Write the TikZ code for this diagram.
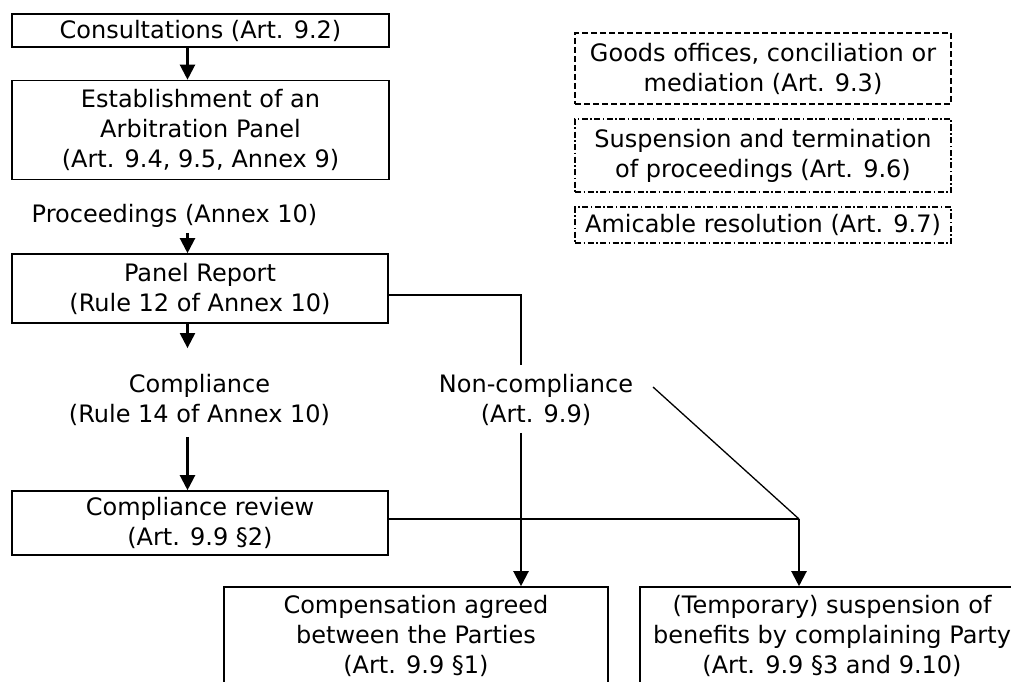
\documentclass[tikz,border=0pt]{standalone}
\usepackage{fontspec}
\setmainfont{DejaVu Sans}
\usetikzlibrary{arrows.meta}
\begin{document}
\begin{tikzpicture}[x=1pt,y=-1pt,
  every node/.style={font=\fontsize{24}{30}\selectfont, align=center, inner sep=0pt},
  solidbox/.style={draw, line width=1.6pt, rectangle},
  dashbox/.style={draw, line width=1.5pt, rectangle, dash pattern=on 6pt off 3pt},
  dotdashbox/.style={draw, line width=1.5pt, rectangle, dash pattern=on 6pt off 2.5pt on 1.5pt off 2.5pt},
  arr/.style={line width=2.2pt, -{Triangle[length=15pt,width=15pt]}},
  conn/.style={line width=1.6pt},
  diag/.style={line width=1.3pt}]
\useasboundingbox (0,0) rectangle (1011,682);
% left column
\node[solidbox, minimum width=377pt, minimum height=33pt] (cons) at (200.5,30.5) {Consultations (Art. 9.2)};
\node[solidbox, minimum width=377pt, minimum height=99pt] (estab) at (200.5,130) {Establishment of an\\Arbitration Panel\\(Art. 9.4, 9.5, Annex 9)};
\node (proc) at (174.5,216) {Proceedings (Annex 10)};
\node[solidbox, minimum width=376pt, minimum height=69pt] (panel) at (200,288.5) {Panel Report\\(Rule 12 of Annex 10)};
\node (compl) at (199.5,400) {Compliance\\(Rule 14 of Annex 10)};
\node[solidbox, minimum width=376pt, minimum height=64pt] (review) at (200,523) {Compliance review\\(Art. 9.9 §2)};
\node (noncomp) at (536,400) {Non-compliance\\(Art. 9.9)};
% bottom boxes (cut off by the page edge)
\node[solidbox, minimum width=384pt, minimum height=98pt] (compens) at (416,636) {Compensation agreed\\between the Parties\\(Art. 9.9 §1)};
\node[solidbox, minimum width=384pt, minimum height=98pt] (susp) at (832,636) {(Temporary) suspension of\\benefits by complaining Party\\(Art. 9.9 §3 and 9.10)};
% right dashed boxes
\node[dashbox, minimum width=376pt, minimum height=71pt] (goods) at (763,68.5) {Goods offices, conciliation or\\mediation (Art. 9.3)};
\node[dotdashbox, minimum width=376pt, minimum height=73pt] (suspterm) at (763,155.5) {Suspension and termination\\of proceedings (Art. 9.6)};
\node[dotdashbox, minimum width=376pt, minimum height=36pt] (amic) at (763,225) {Amicable resolution (Art. 9.7)};
% helper coordinates
\coordinate (colx) at (187.5,0);
\coordinate (p1) at (521,295);
\coordinate (rv) at (0,519);
\coordinate (j) at (799,519);
\coordinate (dstart) at (653,387);
% connectors
\draw[arr] (cons.south -| colx) -- (estab.north -| colx);
\draw[arr, shorten <=5pt] (proc.south -| colx) -- (panel.north -| colx);
\draw[arr, shorten >=26pt] (panel.south -| colx) -- (compl.north -| colx);
\draw[arr, shorten <=11pt] (compl.south -| colx) -- (review.north -| colx);
\draw[conn, shorten >=9pt] (panel.east |- p1) -- (p1) -- (noncomp.north -| p1);
\draw[arr, shorten <=7pt] (noncomp.south -| p1) -- (compens.north -| p1);
\draw[diag] (dstart) -- (j);
\draw[conn] (review.east |- rv) -- (j);
\draw[arr] (j) -- (susp.north -| j);
\end{tikzpicture}
\end{document}
